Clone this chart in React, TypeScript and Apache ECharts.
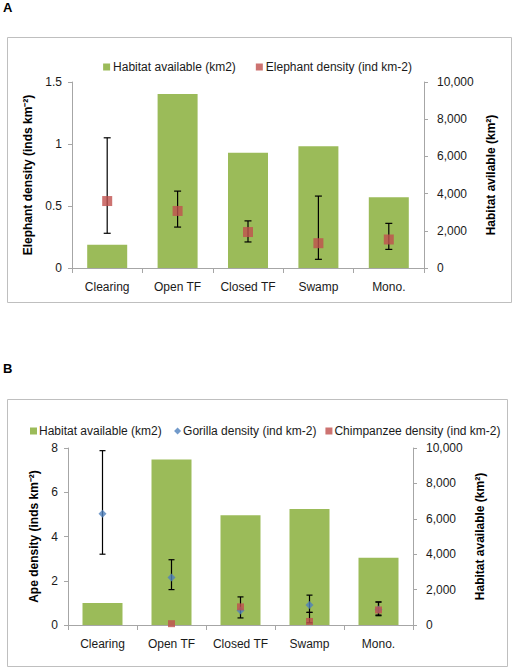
import React, { useEffect, useRef } from "react";
import * as echarts from "echarts";

const categories = ["Clearing", "Open TF", "Closed TF", "Swamp", "Mono."];
const habitatArea = [1250, 9350, 6200, 6550, 3800];
const elephantDensity = [0.54, 0.46, 0.29, 0.2, 0.23];
const elephantLow = [0.28, 0.33, 0.21, 0.07, 0.15];
const elephantHigh = [1.05, 0.62, 0.38, 0.58, 0.36];
const gorillaDensity = [5.03, 2.15, 0.66, 0.9, 0.7];
const gorillaLow = [3.2, 1.6, 0.32, 0.57, 0.45];
const gorillaHigh = [7.88, 2.95, 1.27, 1.35, 1.04];
const chimpDensity = [null, 0.06, 0.82, 0.16, 0.68];
const chimpLow = [null, null, null, 0.1, 0.42];
const chimpHigh = [null, null, null, 0.57, 1.04];
const leftTicksA = [0, 0.5, 1, 1.5];
const leftTicksB = [0, 2, 4, 6, 8];
const rightTicks = [0, 2000, 4000, 6000, 8000, 10000];

const FONT = "Liberation Sans, Arial, sans-serif";
const GREEN = "#9BBB59";
const RED = "#C0504D";
const BLUE = "#4F81BD";
const AXIS = "#A6A6A6";

function errData(low: (number | null)[], high: (number | null)[]) {
  const out: any[] = [];
  low.forEach((l, i) => {
    if (l != null && high[i] != null) out.push([i, l, high[i]]);
  });
  return out;
}

function errorSeries(name: string, data: any[], xi: number, yi: number, cap: number) {
  return {
    type: "custom",
    name,
    xAxisIndex: xi,
    yAxisIndex: yi,
    z: 3,
    silent: true,
    encode: { x: 0, y: [1, 2] },
    data,
    renderItem: (params: any, api: any) => {
      const x = api.value(0);
      const top = api.coord([x, api.value(2)]);
      const bot = api.coord([x, api.value(1)]);
      const st = { stroke: "#000", lineWidth: 1.2 };
      return {
        type: "group",
        children: [
          { type: "line", shape: { x1: top[0], y1: top[1], x2: bot[0], y2: bot[1] }, style: st },
          { type: "line", shape: { x1: top[0] - cap, y1: top[1], x2: top[0] + cap, y2: top[1] }, style: st },
          { type: "line", shape: { x1: bot[0] - cap, y1: bot[1], x2: bot[0] + cap, y2: bot[1] }, style: st },
        ],
      };
    },
  };
}

function catAxis(gi: number) {
  return {
    type: "category",
    gridIndex: gi,
    data: categories,
    axisLine: { lineStyle: { color: AXIS } },
    axisTick: { show: true, length: 5, lineStyle: { color: AXIS } },
    axisLabel: { interval: 0, color: "#1a1a1a", fontFamily: FONT, fontSize: 12, margin: 13 },
  };
}

function valAxis(gi: number, pos: string, max: number, interval: number, name: string, gap: number, fmt?: any) {
  return {
    type: "value",
    gridIndex: gi,
    position: pos,
    min: 0,
    max,
    interval,
    name,
    nameLocation: "middle",
    nameGap: gap,
    nameRotate: 90,
    nameTextStyle: { color: "#000", fontFamily: FONT, fontSize: 12, fontWeight: "bold" },
    axisLine: { show: true, lineStyle: { color: AXIS } },
    axisTick: { show: true, length: 4, lineStyle: { color: AXIS } },
    splitLine: { show: false },
    axisLabel: {
      color: "#1a1a1a",
      fontFamily: FONT,
      fontSize: 12,
      margin: pos === "left" ? 10 : 13,
      formatter: fmt,
    },
  };
}

export default function App() {
  const ref = useRef<HTMLDivElement>(null);
  useEffect(() => {
    if (!ref.current) return;
    const chart = echarts.init(ref.current, null, { renderer: "svg" });
    const commaFmt = (v: number) => v.toLocaleString("en-US");
    const option: any = {
      animation: false,
      backgroundColor: "#fff",
      textStyle: { fontFamily: FONT },
      graphic: [
        { type: "rect", shape: { x: 7.5, y: 37.5, width: 504, height: 265 }, style: { fill: "none", stroke: "#BFBFBF", lineWidth: 1 }, z: -1 },
        { type: "rect", shape: { x: 7.5, y: 399.5, width: 500, height: 267 }, style: { fill: "none", stroke: "#BFBFBF", lineWidth: 1 }, z: -1 },
        { type: "text", left: 3, top: 1, style: { text: "A", font: "bold 13px " + FONT, fill: "#000" } },
        { type: "text", left: 3, top: 362, style: { text: "B", font: "bold 13px " + FONT, fill: "#000" } },
      ],
      legend: [
        {
          top: 56,
          left: "center",
          itemWidth: 7,
          itemHeight: 7,
          itemGap: 20,
          textStyle: { fontFamily: FONT, fontSize: 12, color: "#1a1a1a", padding: [0, 0, 0, -2] },
          data: [
            { name: "Habitat available (km2)", icon: "rect" },
            { name: "Elephant density (ind km-2)", icon: "rect" },
          ],
        },
        {
          top: 420,
          left: 25,
          itemWidth: 7,
          itemHeight: 7,
          itemGap: 9,
          textStyle: { fontFamily: FONT, fontSize: 12, color: "#1a1a1a", padding: [0, 0, 0, -3] },
          data: [
            { name: "Habitat available (km2) ", icon: "rect" },
            { name: "Gorilla density (ind km-2)", icon: "diamond" },
            { name: "Chimpanzee density (ind km-2)", icon: "rect" },
          ],
        },
      ],
      grid: [
        { left: 72, right: 91, top: 82, height: 186 },
        { left: 68, right: 102, top: 448, height: 177 },
      ],
      xAxis: [catAxis(0), catAxis(1)],
      yAxis: [
        valAxis(0, "left", leftTicksA[leftTicksA.length - 1], leftTicksA[1], "Elephant density (inds km⁻²)", 34),
        valAxis(0, "right", rightTicks[rightTicks.length - 1], rightTicks[1], "Habitat avilable (km²)", 59, commaFmt),
        valAxis(1, "left", leftTicksB[leftTicksB.length - 1], leftTicksB[1], "Ape density (inds km⁻²)", 27),
        valAxis(1, "right", rightTicks[rightTicks.length - 1], rightTicks[1], "Habitat available (km²)", 60, commaFmt),
      ],
      series: [
        {
          type: "bar",
          name: "Habitat available (km2)",
          xAxisIndex: 0,
          yAxisIndex: 1,
          data: habitatArea,
          barWidth: 40,
          itemStyle: { color: GREEN },
          z: 1,
        },
        errorSeries("errA", errData(elephantLow, elephantHigh), 0, 0, 3.5),
        {
          type: "scatter",
          name: "Elephant density (ind km-2)",
          xAxisIndex: 0,
          yAxisIndex: 0,
          data: elephantDensity,
          symbol: "rect",
          symbolSize: 10,
          itemStyle: { color: RED },
          z: 5,
        },
        {
          type: "bar",
          name: "Habitat available (km2) ",
          xAxisIndex: 1,
          yAxisIndex: 3,
          data: habitatArea,
          barWidth: 40,
          itemStyle: { color: GREEN },
          z: 1,
        },
        errorSeries("errG", errData(gorillaLow, gorillaHigh), 1, 2, 3),
        errorSeries("errC", errData(chimpLow, chimpHigh), 1, 2, 3),
        {
          type: "scatter",
          name: "Gorilla density (ind km-2)",
          xAxisIndex: 1,
          yAxisIndex: 2,
          data: gorillaDensity,
          symbol: "diamond",
          symbolSize: 8,
          itemStyle: { color: BLUE },
          z: 5,
        },
        {
          type: "scatter",
          name: "Chimpanzee density (ind km-2)",
          xAxisIndex: 1,
          yAxisIndex: 2,
          data: chimpDensity,
          symbol: "rect",
          symbolSize: 7,
          itemStyle: { color: RED },
          z: 6,
        },
      ],
    };
    chart.setOption(option);
    return () => chart.dispose();
  }, []);
  return (
    <div
      ref={ref}
      style={{ position: "fixed", left: 0, top: 0, width: 515, height: 670, background: "#fff" }}
    />
  );
}
